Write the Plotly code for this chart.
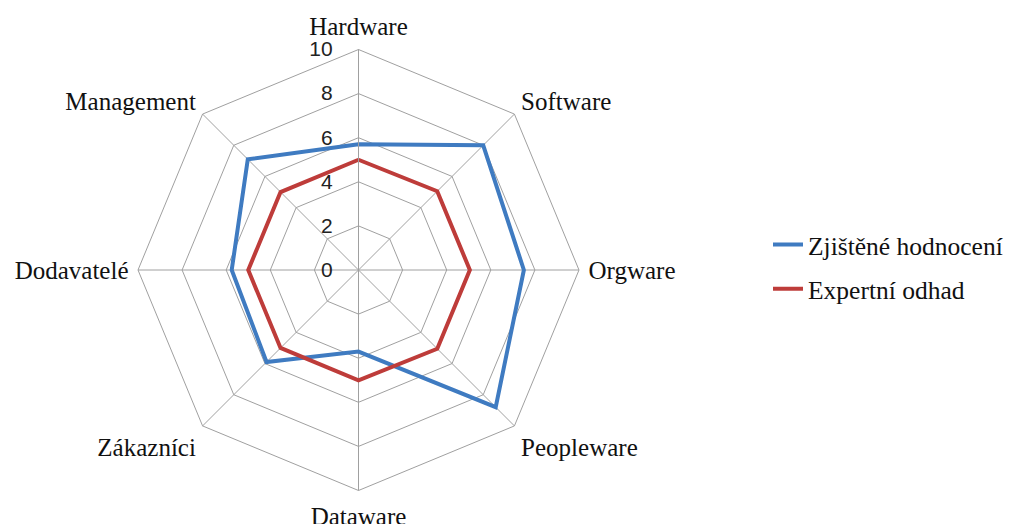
import plotly.graph_objects as go

categories = ["Hardware", "Software", "Orgware", "Peopleware", "Dataware",
              "Zákazníci", "Dodavatelé", "Management"]
zjistene = [5.7, 8.0, 7.5, 8.8, 3.7, 5.9, 5.75, 7.1]
expertni = [5.0, 5.05, 5.05, 5.05, 5.0, 5.0, 5.0, 5.0]
series_names = ["Zjištěné hodnocení", "Expertní odhad"]
radial_ticks = [0, 2, 4, 6, 8, 10]
radial_labels = [str(v) for v in radial_ticks]

SERIF = "Liberation Serif"

fig = go.Figure()
fig.add_trace(go.Scatterpolar(
    r=zjistene + zjistene[:1], theta=categories + categories[:1],
    mode="lines", name=series_names[0], legendgroup="a",
    line=dict(color="#3F7BC1", width=4)))
fig.add_trace(go.Scatterpolar(
    r=expertni + expertni[:1], theta=categories + categories[:1],
    mode="lines", name=series_names[1], legendgroup="b",
    line=dict(color="#BE3C3A", width=4)))

W, H = 1018, 524
cx, cy, R = 350.5, 262, 220.5
fig.update_layout(
    width=W, height=H,
    margin=dict(l=0, r=0, t=0, b=0),
    paper_bgcolor="white", plot_bgcolor="white",
    font=dict(family=SERIF, size=25, color="#111"),
    polar=dict(
        domain=dict(x=[(cx - R) / W, (cx + R) / W],
                    y=[(H - cy - R) / H, (H - cy + R) / H]),
        gridshape="linear",
        bgcolor="white",
        radialaxis=dict(range=[0, 10], tickvals=radial_ticks, ticktext=radial_labels,
                        angle=90, tickangle=90, side="counterclockwise",
                        ticks="outside", ticklen=18, tickcolor="rgba(0,0,0,0)",
                        showline=True, linecolor="#A0A0A0", linewidth=1,
                        gridcolor="#A0A0A0", gridwidth=1,
                        tickfont=dict(family="Liberation Sans", size=21, color="#222")),
        angularaxis=dict(rotation=90, direction="clockwise",
                         showline=True, linecolor="#A0A0A0", linewidth=1,
                         gridcolor="#A0A0A0", gridwidth=1,
                         ticks="outside", ticklen=4, tickcolor="rgba(0,0,0,0)",
                         tickfont=dict(family=SERIF, size=25, color="#111")),
    ),
    legend=dict(x=760 / W, y=(H - 259) / H, xanchor="left", yanchor="middle",
                font=dict(family=SERIF, size=25.5, color="#111"),
                tracegroupgap=8, bgcolor="rgba(0,0,0,0)"),
    showlegend=True,
)

fig.write_html("out.html")
